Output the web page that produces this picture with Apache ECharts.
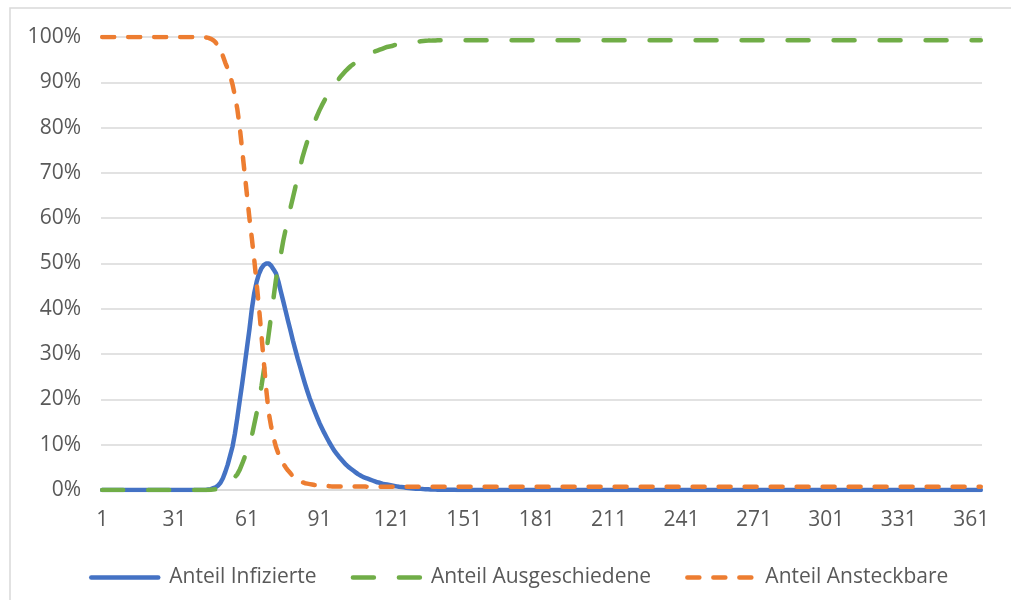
<!DOCTYPE html>
<html>
<head>
<meta charset="utf-8">
<script src="https://cdn.jsdelivr.net/npm/echarts@6/dist/echarts.min.js"></script>
<style>
  html, body { margin: 0; padding: 0; background: #ffffff; }
  #chart { width: 1011px; height: 600px; }
</style>
</head>
<body>
<div id="chart"></div>
<script>
// Tage 1..365
const days = [];
for (let d = 1; d <= 365; d++) days.push(String(d));

const seriesNames = ['Anteil Infizierte', 'Anteil Ausgeschiedene', 'Anteil Ansteckbare'];

// Anteil Infizierte in % (je Tag)
const infizierte = [
  0,0,0,0,0,0,0,0,0,0,                         // 1-10
  0,0,0,0,0,0,0,0,0,0,                         // 11-20
  0,0,0,0,0,0,0,0,0,0,                         // 21-30
  0,0,0,0,0,0,0,0,0,0,                         // 31-40
  0,0,0,0,0.1,0.2,0.4,0.6,1.0,1.6,             // 41-50
  2.6,4.0,5.6,7.6,9.6,12.5,16.0,19.8,23.5,27.5,   // 51-60
  31.5,35.5,40.0,43.5,46.0,47.8,49.0,49.7,50.0,50.0, // 61-70
  49.5,48.7,47.8,46.0,43.8,41.7,39.5,37.3,35.2,33.0, // 71-80
  31.0,29.0,27.2,25.3,23.5,21.8,20.2,18.8,17.4,16.1, // 81-90
  14.8,13.7,12.6,11.6,10.6,9.7,8.8,8.1,7.4,6.8,   // 91-100
  6.2,5.6,5.1,4.7,4.3,3.9,3.5,3.2,2.9,2.7,        // 101-110
  2.5,2.3,2.1,1.9,1.7,1.6,1.4,1.3,1.2,1.1,        // 111-120
  1.0,0.9,0.8,0.7,0.65,0.6,0.5,0.45,0.4,0.35,     // 121-130
  0.3,0.28,0.25,0.2,0.18,0.15,0.12,0.1,0.1,0.08,  // 131-140
  0.07,0.06,0.05,0.05,0.04,0.03,0.03,0.02,0.02,0.01, // 141-150
  0,0,0,0,0,0,0,0,0,0,                         // 151-160
  0,0,0,0,0,0,0,0,0,0,                         // 161-170
  0,0,0,0,0,0,0,0,0,0,                         // 171-180
  0,0,0,0,0,0,0,0,0,0,                         // 181-190
  0,0,0,0,0,0,0,0,0,0,                         // 191-200
  0,0,0,0,0,0,0,0,0,0,                         // 201-210
  0,0,0,0,0,0,0,0,0,0,                         // 211-220
  0,0,0,0,0,0,0,0,0,0,                         // 221-230
  0,0,0,0,0,0,0,0,0,0,                         // 231-240
  0,0,0,0,0,0,0,0,0,0,                         // 241-250
  0,0,0,0,0,0,0,0,0,0,                         // 251-260
  0,0,0,0,0,0,0,0,0,0,                         // 261-270
  0,0,0,0,0,0,0,0,0,0,                         // 271-280
  0,0,0,0,0,0,0,0,0,0,                         // 281-290
  0,0,0,0,0,0,0,0,0,0,                         // 291-300
  0,0,0,0,0,0,0,0,0,0,                         // 301-310
  0,0,0,0,0,0,0,0,0,0,                         // 311-320
  0,0,0,0,0,0,0,0,0,0,                         // 321-330
  0,0,0,0,0,0,0,0,0,0,                         // 331-340
  0,0,0,0,0,0,0,0,0,0,                         // 341-350
  0,0,0,0,0,0,0,0,0,0,                         // 351-360
  0,0,0,0,0                                    // 361-365
];

// Anteil Ausgeschiedene in % (je Tag)
const ausgeschiedene = [
  0,0,0,0,0,0,0,0,0,0,                         // 1-10
  0,0,0,0,0,0,0,0,0,0,                         // 11-20
  0,0,0,0,0,0,0,0,0,0,                         // 21-30
  0,0,0,0,0,0,0,0,0,0,                         // 31-40
  0,0,0,0,0,0.05,0.1,0.15,0.25,0.4,            // 41-50
  0.6,0.9,1.3,1.8,2.3,2.9,3.5,4.5,5.8,7.2,        // 51-60
  8.5,10.0,12.0,14.5,17.0,20.0,23.0,26.5,30.5,34.5, // 61-70
  38.5,42.5,46.5,49.5,52.0,55.0,57.5,60.0,62.3,64.5, // 71-80
  66.8,69.0,71.3,73.5,75.3,77.0,78.5,80.0,81.3,82.6, // 81-90
  83.8,84.9,85.9,86.8,87.7,88.5,89.3,90.0,90.7,91.4, // 91-100
  92.0,92.6,93.1,93.6,94.0,94.4,94.8,95.1,95.4,95.7, // 101-110
  96.0,96.3,96.6,96.8,97.0,97.2,97.4,97.6,97.8,97.9, // 111-120
  98.0,98.2,98.3,98.4,98.5,98.6,98.7,98.8,98.85,98.9, // 121-130
  98.95,99.0,99.05,99.1,99.15,99.2,99.2,99.25,99.25,99.3, // 131-140
  99.3,99.3,99.3,99.3,99.3,99.3,99.3,99.3,99.3,99.3, // 141-150
  99.3,99.3,99.3,99.3,99.3,99.3,99.3,99.3,99.3,99.3, // 151-160
  99.3,99.3,99.3,99.3,99.3,99.3,99.3,99.3,99.3,99.3, // 161-170
  99.3,99.3,99.3,99.3,99.3,99.3,99.3,99.3,99.3,99.3, // 171-180
  99.3,99.3,99.3,99.3,99.3,99.3,99.3,99.3,99.3,99.3, // 181-190
  99.3,99.3,99.3,99.3,99.3,99.3,99.3,99.3,99.3,99.3, // 191-200
  99.3,99.3,99.3,99.3,99.3,99.3,99.3,99.3,99.3,99.3, // 201-210
  99.3,99.3,99.3,99.3,99.3,99.3,99.3,99.3,99.3,99.3, // 211-220
  99.3,99.3,99.3,99.3,99.3,99.3,99.3,99.3,99.3,99.3, // 221-230
  99.3,99.3,99.3,99.3,99.3,99.3,99.3,99.3,99.3,99.3, // 231-240
  99.3,99.3,99.3,99.3,99.3,99.3,99.3,99.3,99.3,99.3, // 241-250
  99.3,99.3,99.3,99.3,99.3,99.3,99.3,99.3,99.3,99.3, // 251-260
  99.3,99.3,99.3,99.3,99.3,99.3,99.3,99.3,99.3,99.3, // 261-270
  99.3,99.3,99.3,99.3,99.3,99.3,99.3,99.3,99.3,99.3, // 271-280
  99.3,99.3,99.3,99.3,99.3,99.3,99.3,99.3,99.3,99.3, // 281-290
  99.3,99.3,99.3,99.3,99.3,99.3,99.3,99.3,99.3,99.3, // 291-300
  99.3,99.3,99.3,99.3,99.3,99.3,99.3,99.3,99.3,99.3, // 301-310
  99.3,99.3,99.3,99.3,99.3,99.3,99.3,99.3,99.3,99.3, // 311-320
  99.3,99.3,99.3,99.3,99.3,99.3,99.3,99.3,99.3,99.3, // 321-330
  99.3,99.3,99.3,99.3,99.3,99.3,99.3,99.3,99.3,99.3, // 331-340
  99.3,99.3,99.3,99.3,99.3,99.3,99.3,99.3,99.3,99.3, // 341-350
  99.3,99.3,99.3,99.3,99.3,99.3,99.3,99.3,99.3,99.3, // 351-360
  99.3,99.3,99.3,99.3,99.3                     // 361-365
];

// Anteil Ansteckbare in % (je Tag)
const ansteckbare = [
  100,100,100,100,100,100,100,100,100,100,     // 1-10
  100,100,100,100,100,100,100,100,100,100,     // 11-20
  100,100,100,100,100,100,100,100,100,100,     // 21-30
  100,100,100,100,100,100,100,100,100,100,     // 31-40
  100,100,100,99.9,99.8,99.6,99.3,98.8,98.0,97.0, // 41-50
  95.8,94.3,93.0,91.5,89.5,87.0,84.0,80.0,75.0,70.0, // 51-60
  65.0,60.0,55.5,50.8,45.5,40.0,34.0,28.0,22.0,17.0, // 61-70
  14.0,11.5,9.5,8.0,6.8,5.8,5.0,4.3,3.7,3.0,      // 71-80
  2.5,2.2,1.9,1.7,1.5,1.4,1.3,1.2,1.1,1.05,       // 81-90
  1.0,0.95,0.9,0.9,0.85,0.8,0.8,0.8,0.8,0.8,      // 91-100
  0.75,0.75,0.75,0.75,0.75,0.75,0.75,0.75,0.75,0.75, // 101-110
  0.72,0.72,0.72,0.72,0.72,0.72,0.72,0.72,0.72,0.72, // 111-120
  0.7,0.7,0.7,0.7,0.7,0.7,0.7,0.7,0.7,0.7,        // 121-130
  0.7,0.7,0.7,0.7,0.7,0.7,0.7,0.7,0.7,0.7,        // 131-140
  0.7,0.7,0.7,0.7,0.7,0.7,0.7,0.7,0.7,0.7,        // 141-150
  0.7,0.7,0.7,0.7,0.7,0.7,0.7,0.7,0.7,0.7,        // 151-160
  0.7,0.7,0.7,0.7,0.7,0.7,0.7,0.7,0.7,0.7,        // 161-170
  0.7,0.7,0.7,0.7,0.7,0.7,0.7,0.7,0.7,0.7,        // 171-180
  0.7,0.7,0.7,0.7,0.7,0.7,0.7,0.7,0.7,0.7,        // 181-190
  0.7,0.7,0.7,0.7,0.7,0.7,0.7,0.7,0.7,0.7,        // 191-200
  0.7,0.7,0.7,0.7,0.7,0.7,0.7,0.7,0.7,0.7,        // 201-210
  0.7,0.7,0.7,0.7,0.7,0.7,0.7,0.7,0.7,0.7,        // 211-220
  0.7,0.7,0.7,0.7,0.7,0.7,0.7,0.7,0.7,0.7,        // 221-230
  0.7,0.7,0.7,0.7,0.7,0.7,0.7,0.7,0.7,0.7,        // 231-240
  0.7,0.7,0.7,0.7,0.7,0.7,0.7,0.7,0.7,0.7,        // 241-250
  0.7,0.7,0.7,0.7,0.7,0.7,0.7,0.7,0.7,0.7,        // 251-260
  0.7,0.7,0.7,0.7,0.7,0.7,0.7,0.7,0.7,0.7,        // 261-270
  0.7,0.7,0.7,0.7,0.7,0.7,0.7,0.7,0.7,0.7,        // 271-280
  0.7,0.7,0.7,0.7,0.7,0.7,0.7,0.7,0.7,0.7,        // 281-290
  0.7,0.7,0.7,0.7,0.7,0.7,0.7,0.7,0.7,0.7,        // 291-300
  0.7,0.7,0.7,0.7,0.7,0.7,0.7,0.7,0.7,0.7,        // 301-310
  0.7,0.7,0.7,0.7,0.7,0.7,0.7,0.7,0.7,0.7,        // 311-320
  0.7,0.7,0.7,0.7,0.7,0.7,0.7,0.7,0.7,0.7,        // 321-330
  0.7,0.7,0.7,0.7,0.7,0.7,0.7,0.7,0.7,0.7,        // 331-340
  0.7,0.7,0.7,0.7,0.7,0.7,0.7,0.7,0.7,0.7,        // 341-350
  0.7,0.7,0.7,0.7,0.7,0.7,0.7,0.7,0.7,0.7,        // 351-360
  0.7,0.7,0.7,0.7,0.7                          // 361-365
];

const FONT = '"Open Sans", "Liberation Sans", sans-serif';
const TEXT = '#595959';
const GRID = '#d9d9d9';
const COLORS = ['#4472C4', '#70AD47', '#ED7D31'];
const DASHES = ['solid', [21, 25], [12, 14]];
const LINE_W = 4.5;

const chart = echarts.init(document.getElementById('chart'), null, { renderer: 'canvas' });

chart.setOption({
  animation: false,
  backgroundColor: '#ffffff',
  textStyle: { fontFamily: FONT },
  graphic: [{
    type: 'rect',
    silent: true,
    shape: { x: 10, y: 8, width: 1030, height: 640 },
    style: { fill: 'none', stroke: GRID, lineWidth: 1.5 }
  }],
  grid: { left: 101, right: 29, top: 37, bottom: 110 },
  legend: {
    top: 562,
    left: 84,
    itemWidth: 67,
    itemHeight: 14,
    itemGap: 34,
    itemStyle: { color: 'transparent', borderWidth: 0, opacity: 0 },
    textStyle: { color: TEXT, fontSize: 21, fontFamily: FONT, padding: [0, 0, 0, 6] },
    data: seriesNames.map((name, i) => ({
      name: name,
      lineStyle: { width: LINE_W, color: COLORS[i], type: DASHES[i], cap: 'round' }
    }))
  },
  xAxis: {
    type: 'category',
    data: days,
    boundaryGap: true,
    axisLine: { lineStyle: { color: GRID, width: 1.5 } },
    axisTick: { show: false },
    axisLabel: { interval: 29, color: TEXT, fontSize: 21, fontFamily: FONT, margin: 20 },
    splitLine: { show: false }
  },
  yAxis: {
    type: 'value',
    min: 0,
    max: 100,
    interval: 10,
    axisLine: { show: false },
    axisTick: { show: false },
    axisLabel: { formatter: '{value}%', color: TEXT, fontSize: 21, fontFamily: FONT, margin: 20 },
    splitLine: { lineStyle: { color: GRID, width: 1.5 } }
  },
  series: [infizierte, ausgeschiedene, ansteckbare].map((values, i) => ({
    name: seriesNames[i],
    type: 'line',
    data: values,
    symbol: 'none',
    color: COLORS[i],
    lineStyle: { width: LINE_W, color: COLORS[i], type: DASHES[i], cap: 'round', join: 'round' },
    z: 2 + i
  }))
});
</script>
</body>
</html>
